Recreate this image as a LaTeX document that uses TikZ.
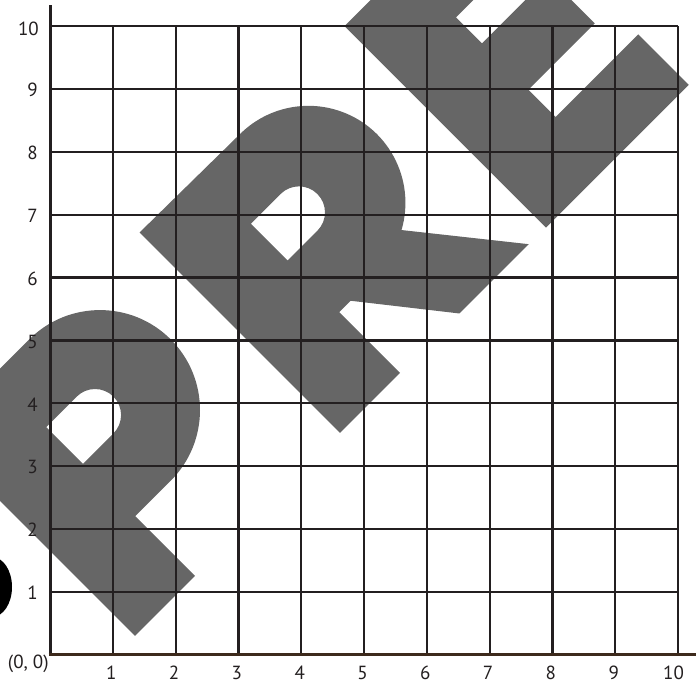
\documentclass[tikz,border=0pt]{standalone}
\usepackage{fontspec}
\setmainfont{PT Sans}
\definecolor{wmgray}{HTML}{666666}
\definecolor{linecol}{HTML}{231F20}
\definecolor{basecol}{HTML}{3D2A1C}
\begin{document}
\begin{tikzpicture}[x=1pt,y=1pt,
  wm/.style={fill=wmgray, even odd rule},
  gridline/.style={draw=linecol, line width=2.2pt},
  axisline/.style={draw=linecol, line width=3pt},
  baseaxis/.style={draw=basecol, line width=3pt},
  lbl/.style={text=linecol, font=\fontsize{19}{19}\selectfont, inner sep=0pt}]
\useasboundingbox (0,0) rectangle (696,687);
\begin{scope}
\clip (0,0) rectangle (696,687);
% letter P
\begin{scope}[shift={(135,51)},rotate=45]
\fill[wm] (0,0) -- (85,0) -- (85,84.5) -- (135,84.5) arc[start angle=-90,end angle=90,radius=100] -- (0,284.5) -- cycle
  (85,158.5) -- (128,158.5) arc[start angle=-90,end angle=90,radius=26] -- (85,210.5) -- cycle;
\end{scope}
% letter R
\begin{scope}[shift={(340,254)},rotate=45]
\fill[wm] (0,0) -- (85,0) -- (85,86) -- (101,86) -- (169,0) -- (267,0) -- (187,100)
  arc[start angle=-61.3,end angle=90,radius=97] -- (0,283.5) -- cycle
  (85,159) -- (127,159) arc[start angle=-90,end angle=90,radius=26] -- (85,211) -- cycle;
\end{scope}
% letter E
\begin{scope}[shift={(546,459.3)},rotate=45]
\fill[wm] (0,0) -- (202,0) -- (202,71.5) -- (85,71.5) -- (85,110) -- (179,110) -- (179,175.6)
  -- (85,175.6) -- (85,212.4) -- (195,212.4) -- (195,285) -- (0,285) -- cycle;
\end{scope}
\fill[black] (-8,100) ellipse [x radius=20, y radius=30];
\end{scope}
% grid
\foreach \i in {1,...,10} \draw[gridline] ({50+62.8*\i},32) -- ({50+62.8*\i},661);
\foreach \j in {1,...,10} \draw[gridline] (50,{32+62.9*\j}) -- (678,{32+62.9*\j});
\draw[axisline] (50,32) -- (50,682);
\draw[baseaxis] (48.5,32) -- (696,32);
% labels
\foreach \j in {1,...,9} \node[lbl, anchor=east] (y\j) at (38,{32+62.9*\j-1}) {\j};
\node[lbl, anchor=east] (y10) at (39,658) {10};
\foreach \i in {1,...,9} \node[lbl] (x\i) at ({50+62.8*\i-1.5},14) {\i};
\node[lbl] (x10) at (673.5,14) {10};
\node[lbl] (origin) at (28.3,23.5) {(0, 0)};
\end{tikzpicture}
\end{document}
